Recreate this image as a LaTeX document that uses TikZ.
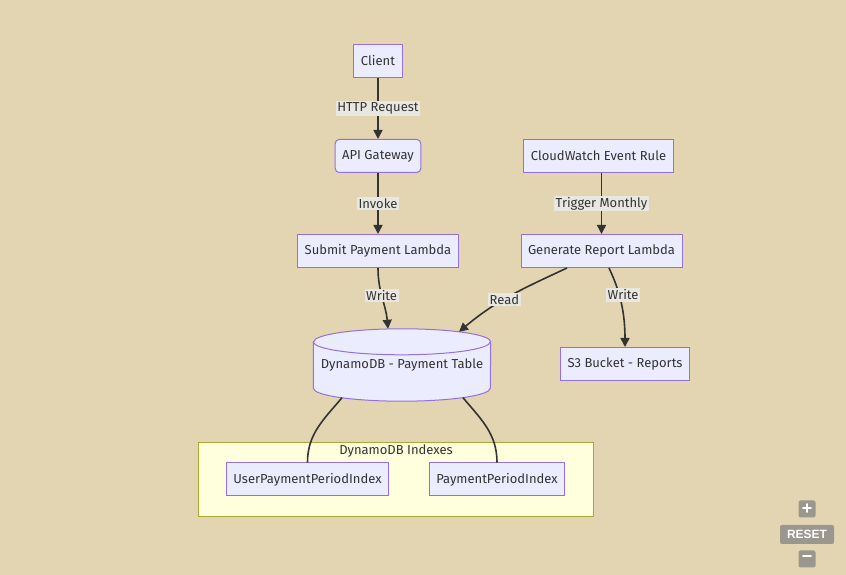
\documentclass[tikz,border=0pt]{standalone}
\usepackage{fontspec}
\setmainfont{Fira Sans}
\newfontfamily\btnfont{Liberation Sans}
\usetikzlibrary{shapes.geometric, arrows.meta, backgrounds}
\definecolor{bgbeige}{HTML}{E3D5B2}
\definecolor{nodefill}{HTML}{ECECFF}
\definecolor{nodeline}{HTML}{9370DB}
\definecolor{edgeline}{HTML}{333333}
\definecolor{labelbg}{HTML}{E8E7E1}
\definecolor{clusterfill}{HTML}{FFFFDE}
\definecolor{clusterline}{HTML}{AAAA33}
\definecolor{btngray}{HTML}{9A978F}
\tikzstyle{service} = [rectangle, minimum height=33pt, inner xsep=7pt, text centered, draw=nodeline, fill=nodefill, line width=1pt, text=edgeline, font=\fontsize{13}{16}\selectfont]
\tikzstyle{gateway} = [service, rounded corners=4pt]
\tikzstyle{store} = [rectangle, minimum width=177pt, minimum height=72pt, text=edgeline, font=\fontsize{13}{16}\selectfont]
\tikzstyle{group} = [rectangle, draw=clusterline, fill=clusterfill, line width=1pt]
\tikzstyle{lbl} = [fill=labelbg, inner sep=1.5pt, text=edgeline, font=\fontsize{13}{16}\selectfont]
\tikzstyle{arrow} = [line width=1.6pt, draw=edgeline, -{Triangle[length=9pt,width=9pt]}]
\tikzstyle{link} = [line width=1.6pt, draw=edgeline]
\tikzstyle{btn} = [rectangle, rounded corners=2pt, fill=btngray, text=white, inner sep=0pt, font=\btnfont\bfseries\fontsize{12}{14}\selectfont]

\begin{document}
\begin{tikzpicture}[x=1pt, y=1pt, node distance=95pt]
\begin{scope}[on background layer]
\fill[bgbeige] (0,0) rectangle (846,575);
\end{scope}
\useasboundingbox (0,0) rectangle (846,575);

% request path
\node (client) [service] at (378,514) {Client};
\node (api) [gateway, below of=client] {API Gateway};
\node (submit) [service, below of=api] {Submit Payment Lambda};

% monthly report path
\node (cloudwatch) [service] at (598.5,419) {CloudWatch Event Rule};
\node (report) [service, below of=cloudwatch, xshift=3pt] {Generate Report Lambda};
\node (s3) [service] at (625,211) {S3 Bucket - Reports};

% table
\node (ddb) [store] at (402,210) {DynamoDB - Payment Table};
\begin{scope}[on background layer]
\draw[draw=nodeline, fill=nodefill, line width=1pt]
  ([yshift=-13pt]ddb.north west) -- ([yshift=13pt]ddb.south west)
  arc[start angle=180, end angle=360, x radius=88.5pt, y radius=13pt]
  -- ([yshift=-13pt]ddb.north east)
  arc[start angle=0, end angle=180, x radius=88.5pt, y radius=13pt] -- cycle;
\draw[draw=nodeline, line width=1pt] ([yshift=-13pt]ddb.north west)
  arc[start angle=180, end angle=360, x radius=88.5pt, y radius=13pt];
\end{scope}

% indexes
\node (indexes) [group, minimum width=395pt, minimum height=74pt] at (395.5,95) {};
\node (indexlabel) [text=edgeline, font=\fontsize{13}{16}\selectfont] at (396,124) {DynamoDB Indexes};
\node (userindex) [service] at (307.5,95.5) {UserPaymentPeriodIndex};
\node (periodindex) [service] at (497,95.5) {PaymentPeriodIndex};

\draw [arrow] (client) -- node[lbl] {HTTP Request} (api);
\draw [arrow] (api) -- node[lbl] {Invoke} (submit);
\draw [arrow] (report.north |- cloudwatch.south) -- node[lbl] {Trigger Monthly} (report);
\draw [arrow] (submit.south) to[out=-90, in=95] node[lbl, pos=0.45] {Write} ([xshift=-14pt]ddb.north);
\draw [arrow] ([xshift=-34.5pt]report.south) to[out=-155, in=40] node[lbl, pos=0.56] {Read} ([xshift=57pt, yshift=-3pt]ddb.north);
\draw [arrow] ([xshift=7.5pt]report.south) to[out=-65, in=90, out looseness=0.6, in looseness=1.3] node[lbl, pos=0.45, xshift=4pt] {Write} (s3.north);
\draw [link] ([xshift=-60pt, yshift=3.5pt]ddb.south) to[out=-130, in=90] (userindex.north);
\draw [link] ([xshift=61pt, yshift=3.5pt]ddb.south) to[out=-50, in=90] (periodindex.north);

% zoom controls
\node (zoomin) [btn, minimum width=17pt, minimum height=17pt, font=\btnfont\bfseries\fontsize{18}{18}\selectfont] at (807,66) {+};
\node (reset) [btn, minimum width=54pt, minimum height=19pt] at (807,40.5) {RESET};
\node (zoomout) [btn, minimum width=17pt, minimum height=17pt, font=\btnfont\bfseries\fontsize{18}{18}\selectfont] at (807,16) {\textminus};
\end{tikzpicture}
\end{document}
